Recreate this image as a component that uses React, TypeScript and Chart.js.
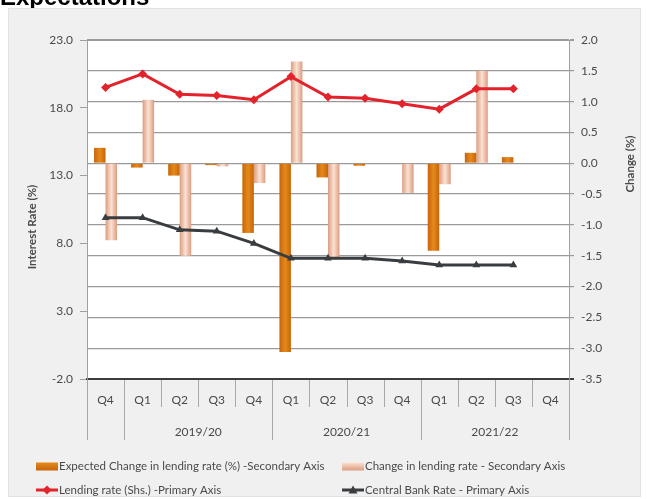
import { useEffect, useRef } from "react";
import { Chart, registerables } from "chart.js";

Chart.register(...registerables);

// Quarter labels along the bottom axis; the leading Q4 belongs to 2018/19
const quarters = ["Q4", "Q1", "Q2", "Q3", "Q4", "Q1", "Q2", "Q3", "Q4", "Q1", "Q2", "Q3", "Q4"];
// Fiscal-year group labels and the quarter index where each group starts (4 quarters each)
const fiscalYears = ["2019/20", "2020/21", "2021/22"];
const fiscalYearStart = [1, 5, 9];

// Secondary axis (Change, %)
const expectedChange = [0.25, -0.07, -0.2, -0.03, -1.13, -3.06, -0.23, -0.04, 0, -1.42, 0.17, 0.1, null];
const actualChange = [-1.25, 1.03, -1.5, -0.05, -0.32, 1.65, -1.52, 0, -0.48, -0.34, 1.5, 0, null];
// Primary axis (Interest rate, %)
const lendingRate = [19.5, 20.5, 19.0, 18.9, 18.6, 20.3, 18.8, 18.7, 18.3, 17.9, 19.4, 19.4, null];
const centralBankRate = [9.9, 9.9, 9.0, 8.9, 8.0, 6.9, 6.9, 6.9, 6.7, 6.4, 6.4, 6.4, null];

const legendLabels = [
  "Expected Change in lending rate (%) -Secondary Axis",
  "Change in lending rate - Secondary Axis",
  "Lending rate (Shs.) -Primary Axis",
  "Central Bank Rate - Primary Axis",
];

const FONT = "Lato, 'Liberation Sans', sans-serif";
const TEXT = "#4a4a4a";
const CAT_PCT = 0.62;

const ORANGE = ["#c7640a", "#e58a1c", "#c7640a"];
const PEACH = ["#dc9c80", "#fbe2d3", "#dc9c80"];
const RED = "#e4222b";
const DARK = "#3a3d40";

function barFill(ctx: any, side: number, stops: string[]) {
  const chart = ctx.chart;
  const xs = chart.scales && chart.scales.x;
  if (!xs || ctx.type !== "data" || !xs.width) return stops[1];
  const center = xs.getPixelForValue(ctx.dataIndex);
  const w = (xs.width / quarters.length) * CAT_PCT / 2;
  const left = side === 0 ? center - w : center;
  const g = chart.ctx.createLinearGradient(left, 0, left + w, 0);
  g.addColorStop(0, stops[0]);
  g.addColorStop(0.5, stops[1]);
  g.addColorStop(1, stops[2]);
  return g;
}

const decorations = {
  id: "decorations",
  beforeDraw(chart: any) {
    const { ctx, chartArea } = chart;
    ctx.save();
    ctx.fillStyle = "#ffffff";
    ctx.fillRect(0, 0, chart.width, chart.height);
    // heading above the panel
    ctx.fillStyle = "#000000";
    ctx.font = "bold 24px 'Liberation Sans', Arial, sans-serif";
    ctx.textBaseline = "alphabetic";
    ctx.textAlign = "left";
    ctx.fillText("Expectations", 0, 4.5);
    // grey panel
    ctx.fillStyle = "#f0f0f0";
    ctx.fillRect(8, 8, 633, 489);
    ctx.strokeStyle = "#e2e2e2";
    ctx.lineWidth = 1;
    ctx.strokeRect(8.5, 8.5, 632, 488);
    // plot area
    ctx.fillStyle = "#ffffff";
    ctx.fillRect(chartArea.left, chartArea.top, chartArea.right - chartArea.left, chartArea.bottom - chartArea.top);
    ctx.restore();
  },
  afterDraw(chart: any) {
    const { ctx, chartArea } = chart;
    const xs = chart.scales.x;
    const axisY = chartArea.bottom;
    ctx.save();
    // category separators below the axis
    ctx.strokeStyle = "#a8a8a8";
    ctx.lineWidth = 1;
    for (let i = 0; i <= quarters.length; i++) {
      const x = Math.round(xs.getPixelForValue(i - 0.5)) + 0.5;
      const long = i === 0 || i === quarters.length || fiscalYearStart.includes(i);
      ctx.beginPath();
      ctx.moveTo(x, axisY + 1);
      ctx.lineTo(x, axisY + (long ? 61 : 28));
      ctx.stroke();
    }
    // fiscal-year group labels
    ctx.fillStyle = TEXT;
    ctx.font = `12px ${FONT}`;
    ctx.textAlign = "center";
    ctx.textBaseline = "middle";
    fiscalYears.forEach((label, k) => {
      const s = fiscalYearStart[k];
      const cx = (xs.getPixelForValue(s - 0.5) + xs.getPixelForValue(s + 3.5)) / 2;
      ctx.fillText(label, cx, axisY + 53);
    });
    // axis titles
    ctx.font = `bold 11.5px ${FONT}`;
    ctx.fillStyle = TEXT;
    ctx.save();
    ctx.translate(32, 227);
    ctx.rotate(-Math.PI / 2);
    ctx.fillText("Interest Rate (%)", 0, 0);
    ctx.restore();
    ctx.save();
    ctx.translate(630, 164);
    ctx.rotate(-Math.PI / 2);
    ctx.fillText("Change (%)", 0, 0);
    ctx.restore();

    // legend
    const drawRect = (x: number, y: number, stops: string[]) => {
      const g = ctx.createLinearGradient(0, y - 4, 0, y + 4);
      g.addColorStop(0, stops[1]);
      g.addColorStop(1, stops[0]);
      ctx.fillStyle = g;
      ctx.fillRect(x, y - 4, 22, 8);
    };
    const drawLine = (x: number, y: number, color: string, style: string) => {
      ctx.strokeStyle = color;
      ctx.lineWidth = 3;
      ctx.beginPath();
      ctx.moveTo(x, y);
      ctx.lineTo(x + 22, y);
      ctx.stroke();
      ctx.fillStyle = color;
      const cx = x + 11;
      ctx.beginPath();
      if (style === "diamond") {
        ctx.moveTo(cx, y - 4.5);
        ctx.lineTo(cx + 4.5, y);
        ctx.lineTo(cx, y + 4.5);
        ctx.lineTo(cx - 4.5, y);
      } else {
        ctx.moveTo(cx, y - 4.5);
        ctx.lineTo(cx + 4.5, y + 3.5);
        ctx.lineTo(cx - 4.5, y + 3.5);
      }
      ctx.closePath();
      ctx.fill();
    };
    const row1 = 466.5;
    const row2 = 490;
    drawRect(36, row1, ORANGE);
    drawRect(342, row1, PEACH);
    drawLine(36, row2, RED, "diamond");
    drawLine(342, row2, DARK, "triangle");
    ctx.fillStyle = TEXT;
    ctx.font = `11.5px ${FONT}`;
    ctx.textAlign = "left";
    ctx.textBaseline = "middle";
    ctx.fillText(legendLabels[0], 59, row1);
    ctx.fillText(legendLabels[1], 365, row1);
    ctx.fillText(legendLabels[2], 59, row2);
    ctx.fillText(legendLabels[3], 365, row2);
    ctx.restore();
  },
};

export default function App() {
  const canvasRef = useRef<HTMLCanvasElement | null>(null);

  useEffect(() => {
    const canvas = canvasRef.current;
    if (!canvas) return;
    const tickFont = { family: FONT, size: 12 };
    const chart = new Chart(canvas, {
      type: "bar",
      data: {
        labels: quarters,
        datasets: [
          {
            type: "bar",
            label: legendLabels[0],
            data: expectedChange,
            yAxisID: "y2",
            order: 2,
            backgroundColor: (c: any) => barFill(c, 0, ORANGE),
            borderWidth: 0,
            categoryPercentage: CAT_PCT,
            barPercentage: 1,
          },
          {
            type: "bar",
            label: legendLabels[1],
            data: actualChange,
            yAxisID: "y2",
            order: 2,
            backgroundColor: (c: any) => barFill(c, 1, PEACH),
            borderWidth: 0,
            categoryPercentage: CAT_PCT,
            barPercentage: 1,
          },
          {
            type: "line",
            label: legendLabels[2],
            data: lendingRate,
            yAxisID: "y",
            order: 1,
            borderColor: RED,
            backgroundColor: RED,
            borderWidth: 3,
            pointStyle: "rectRot",
            pointRadius: 4.5,
            pointBorderWidth: 0,
            tension: 0,
          },
          {
            type: "line",
            label: legendLabels[3],
            data: centralBankRate,
            yAxisID: "y",
            order: 1,
            borderColor: DARK,
            backgroundColor: DARK,
            borderWidth: 3,
            pointStyle: "triangle",
            pointRadius: 4.5,
            pointBorderWidth: 0,
            tension: 0,
          },
        ] as any,
      },
      options: {
        animation: false,
        responsive: false,
        devicePixelRatio: 1,
        layout: { padding: { top: 40, left: 0, right: 0, bottom: 0 } },
        plugins: {
          legend: { display: false },
          title: { display: false },
          tooltip: { enabled: false },
        },
        scales: {
          x: {
            type: "category",
            offset: true,
            grid: { display: false, drawTicks: false, tickLength: 0 },
            border: { display: true, color: "#3c3c3c", width: 2 },
            ticks: { color: TEXT, font: tickFont, padding: 14, maxRotation: 0, autoSkip: false },
            afterFit: (s: any) => {
              s.height = 120;
              s.paddingLeft = 0;
              s.paddingRight = 0;
            },
          },
          y: {
            type: "linear",
            position: "left",
            min: -2,
            max: 23,
            ticks: {
              stepSize: 5,
              color: TEXT,
              font: tickFont,
              padding: 7,
              callback: (v: any) => Number(v).toFixed(1),
            },
            grid: { drawOnChartArea: false, tickLength: 7, color: "#a0a0a0" },
            border: { color: "#a0a0a0", width: 1 },
            afterFit: (s: any) => {
              s.width = 87;
              s.paddingTop = 0;
              s.paddingBottom = 0;
            },
          },
          y2: {
            type: "linear",
            position: "right",
            min: -3.5,
            max: 2,
            ticks: {
              stepSize: 0.5,
              color: TEXT,
              font: tickFont,
              padding: 7,
              callback: (v: any) => Number(v).toFixed(1),
            },
            grid: {
              drawOnChartArea: true,
              tickLength: 5,
              color: (c: any) => (c.tick && c.tick.value === -3.5 ? "#3c3c3c" : "#9a9a9a"),
              lineWidth: (c: any) => (c.tick && (c.tick.value === 2 || c.tick.value === -3.5) ? 2 : 1.2),
            },
            border: { color: "#a0a0a0", width: 1 },
            afterFit: (s: any) => {
              s.width = 78;
              s.paddingTop = 0;
              s.paddingBottom = 0;
            },
          },
        },
      } as any,
      plugins: [decorations],
    });
    return () => chart.destroy();
  }, []);

  return (
    <div style={{ position: "fixed", left: 0, top: 0, width: 647, height: 499, background: "#fff" }}>
      <canvas ref={canvasRef} width={647} height={499} style={{ display: "block" }} />
    </div>
  );
}
